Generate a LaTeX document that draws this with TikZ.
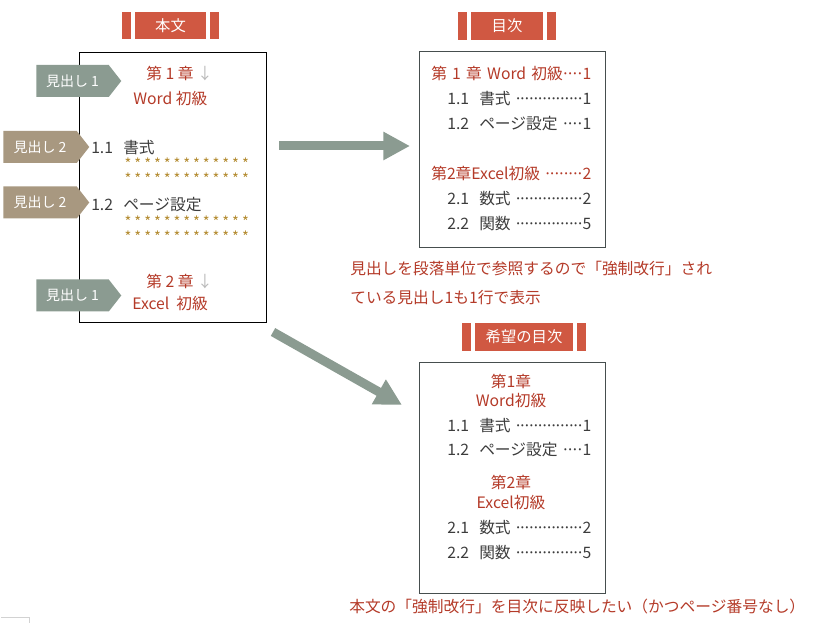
\documentclass[tikz,border=0pt]{standalone}
\usepackage{fontspec}
\setmainfont{Noto Sans CJK JP}
\usetikzlibrary{arrows.meta,shapes.symbols}
\definecolor{badgered}{RGB}{208,88,66}
\definecolor{textred}{RGB}{180,58,40}
\definecolor{tagsage}{RGB}{139,155,145}
\definecolor{tagtan}{RGB}{168,152,128}
\definecolor{stargold}{RGB}{180,140,50}
\definecolor{inkgray}{RGB}{60,60,60}
\definecolor{framegray}{RGB}{70,78,78}
\definecolor{downgray}{RGB}{185,185,185}
\newcommand\tocdots{\xleaders\hbox to 3.3pt{\hss·\hss}\hfill}
\newcommand\starrow{\foreach \i in {1,...,13}{\makebox[7.33pt]{*}}}
\newcommand\secno[1]{\makebox[24pt][l]{#1}}
\tikzset{
  page/.style={draw=black, line width=0.75pt},
  tocframe/.style={draw=framegray, line width=0.75pt},
  badge/.style={fill=badgered, text=white, inner sep=0pt, minimum height=20.5pt,
    font=\fontsize{11.5}{13}\selectfont},
  body/.style={inner sep=0pt, text=inkgray, font=\fontsize{11.8}{13}\selectfont},
  head/.style={body, text=textred},
  stars/.style={inner sep=0pt, text=stargold, align=left,
    font=\fontsize{11}{11.25}\selectfont},
  tag/.style={signal, signal to=east, signal pointer angle=104, inner sep=0pt,
    minimum height=24pt, text=white, font=\fontsize{10.5}{12}\selectfont},
  tagone/.style={tag, fill=tagsage, minimum width=63.75pt},
  tagtwo/.style={tag, fill=tagtan, minimum width=64.5pt},
  flow/.style={draw=tagsage, line width=6.75pt, -{Triangle[length=20pt,width=20pt]}}
}
\begin{document}
\begin{tikzpicture}[x=0.75pt,y=-0.75pt]
\useasboundingbox (0,0) rectangle (817,623);
% Titel
\node[badge, minimum width=53.25pt] (bhonbun) at (170.5,25.5) {本文};
\node[badge, minimum width=54pt] (bmokuji) at (507,26) {目次};
\node[badge, minimum width=73.5pt] (bkibou) at (524,337) {希望の目次};
\foreach \b in {bhonbun,bmokuji,bkibou}{
  \fill[badgered] ([xshift=-3pt]\b.north west) rectangle ([xshift=-9.5pt]\b.south west);
  \fill[badgered] ([xshift=3pt]\b.north east) rectangle ([xshift=9.5pt]\b.south east);
}
% Rahmen
\draw[page] (79,53) rectangle (266,323);
\draw[tocframe] (419,52) rectangle (605,248);
\draw[tocframe] (419,363) rectangle (605,593);
% Body text
\node[head, anchor=west] (c1) at (146,74) {第~1~章~{\color{downgray}↓}};
\node[head, anchor=west] (c1t) at (133,99) {Word~初級};
\node[body, anchor=west] (s11) at (91,148) {\secno{1.1}書式};
\node[stars, anchor=west] (st1) at (123,171.5) {\starrow\\\starrow};
\node[body, anchor=west] (s12) at (91,205) {\secno{1.2}ページ設定};
\node[stars, anchor=west] (st2) at (123,229.5) {\starrow\\\starrow};
\node[head, anchor=west] (c2) at (146,282) {第~2~章~{\color{downgray}↓}};
\node[head, anchor=west] (c2t) at (132,304) {Excel~~初級};
% Marken
\node[tagone, anchor=west] (m1a) at (36,81) {見出し~1};
\node[tagtwo, anchor=west] (m2a) at (3,147) {見出し~2};
\node[tagtwo, anchor=west] (m2b) at (3,202.5) {見出し~2};
\node[tagone, anchor=west] (m1b) at (36,295.5) {見出し~1};
% Inhaltsverzeichnis
\node[head, anchor=west, text width=120pt] (t1) at (431,74) {第~1~章~Word~初級\tocdots 1};
\node[body, anchor=west, text width=108pt] (t11) at (447,99) {\secno{1.1}書式~\tocdots 1};
\node[body, anchor=west, text width=108pt] (t12) at (447,124) {\secno{1.2}ページ設定~\tocdots 1};
\node[head, anchor=west, text width=120pt] (t2) at (431,174) {第2章Excel初級~\tocdots 2};
\node[body, anchor=west, text width=108pt] (t21) at (447,199) {\secno{2.1}数式~\tocdots 2};
\node[body, anchor=west, text width=108pt] (t22) at (447,224) {\secno{2.2}関数~\tocdots 5};
\node[head, anchor=west, align=left, font=\fontsize{11.8}{21.75}\selectfont] (note1) at (350,282.5)
  {見出しを段落単位で参照するので「強制改行」され\\ている見出し1も1行で表示};
% Wunsch
\node[head] (k1) at (511,381) {第1章};
\node[head] (k1t) at (511,401) {Word初級};
\node[body, anchor=west, text width=108pt] (k11) at (447,426) {\secno{1.1}書式~\tocdots 1};
\node[body, anchor=west, text width=108pt] (k12) at (447,450) {\secno{1.2}ページ設定~\tocdots 1};
\node[head] (k2) at (511,482) {第2章};
\node[head] (k2t) at (511,503) {Excel初級};
\node[body, anchor=west, text width=108pt] (k21) at (447,528) {\secno{2.1}数式~\tocdots 2};
\node[body, anchor=west, text width=108pt] (k22) at (447,553) {\secno{2.2}関数~\tocdots 5};
\node[head, anchor=west] (note2) at (349,607) {本文の「強制改行」を目次に反映したい（かつページ番号なし）};
% Pfeile
\coordinate (r1s) at (279,146);
\coordinate (r1e) at (410,146);
\coordinate (r2s) at (273,332);
\coordinate (r2e) at (402,405);
\draw[flow] (r1s) -- (r1e);
\draw[flow] (r2s) -- (r2e);
\draw[gray!35, line width=0.75pt] (1,617) -- (29,617) -- (29,623);
\end{tikzpicture}
\end{document}
